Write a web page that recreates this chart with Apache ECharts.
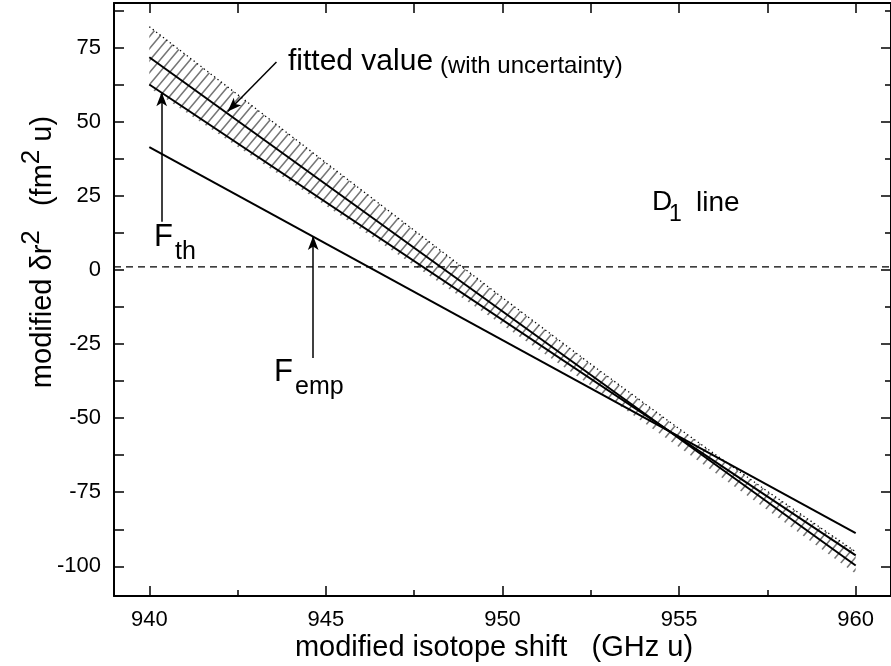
<!DOCTYPE html>
<html><head><meta charset="utf-8">
<script src="https://cdn.jsdelivr.net/npm/echarts@6/dist/echarts.min.js"></script>
<style>html,body{margin:0;padding:0;background:#fff}#c{width:891px;height:666px}</style>
</head><body><div id="c"></div>
<script>
// ---- data ----
const lineX = [940, 960];
const fittedY = [71.7, -99.7];
const fthY = [62.5, -96.3];
const fempY = [41.4, -88.8];
const bandX = [940, 942.5, 945, 947.5, 950, 952.5, 955, 957.5, 960];
const bandUpper = [82.0, 59.1, 36.1, 13.3, -9.4, -31.8, -53.6, -74.7, -95.1];
const bandLower = [61.4, 41.5, 21.6, 1.5, -18.6, -39.0, -59.8, -81.0, -102.5];
const zeroLineX = [939, 961];
const zeroLineY = [1, 1];
const xMajorTicks = [940, 945, 950, 955, 960];
const xMinorTicks = [942.5, 947.5, 952.5, 957.5];
const yMajorTicks = [-100, -75, -50, -25, 0, 25, 50, 75];
const yMinorTicks = [-87.5, -62.5, -37.5, -12.5, 12.5, 37.5, 62.5, 87.5];
const arrowFitted = [[943.6, 70.1], [942.22, 53.4]];
const arrowFth = [[940.35, 16.2], [940.35, 59.9]];
const arrowFemp = [[944.64, -29.7], [944.64, 11.4]];

const FONT = '"Liberation Sans", Arial, Helvetica, sans-serif';
const allX = xMajorTicks.concat(xMinorTicks);
const allY = yMajorTicks.concat(yMinorTicks);

function hatchCanvas() {
  const w = 10, h = 12;
  const c = document.createElement('canvas');
  c.width = w; c.height = h;
  const g = c.getContext('2d');
  g.strokeStyle = '#767676';
  g.lineWidth = 1.5;
  g.beginPath();
  for (const off of [-w, 0, w]) {
    g.moveTo(off - 1, h + h / w);
    g.lineTo(off + w + 1, -h / w);
  }
  g.stroke();
  return c;
}
const hatch = hatchCanvas();

const chart = echarts.init(document.getElementById('c'), null, {renderer: 'canvas'});

function axLine() { return {show: true, onZero: false, lineStyle: {color: '#000', width: 2}}; }
function xAx(extra) {
  return Object.assign({
    type: 'value', min: 939, max: 961, splitLine: {show: false},
    axisLine: axLine()
  }, extra);
}
function yAx(extra) {
  return Object.assign({
    type: 'value', min: -110, max: 90, splitLine: {show: false},
    axisLine: axLine()
  }, extra);
}

const option = {
  animation: false,
  backgroundColor: '#fff',
  grid: {left: 114, right: -3, top: 3, bottom: 70, containLabel: false},
  xAxis: [
    xAx({position: 'bottom',
      axisTick: {show: true, inside: true, length: 10, customValues: xMajorTicks, lineStyle: {color: '#000', width: 1.5}},
      axisLabel: {show: true, customValues: xMajorTicks, color: '#000', fontSize: 22, fontFamily: FONT, margin: 13}
    }),
    xAx({position: 'bottom', axisLine: {show: false, onZero: false},
      axisTick: {show: true, inside: true, length: 6, customValues: xMinorTicks, lineStyle: {color: '#000', width: 1.5}},
      axisLabel: {show: false}
    }),
    xAx({position: 'top',
      axisTick: {show: true, inside: true, length: 10, customValues: allX, lineStyle: {color: '#000', width: 1.5}},
      axisLabel: {show: false}
    })
  ],
  yAxis: [
    yAx({position: 'left',
      axisTick: {show: true, inside: true, length: 10, customValues: allY, lineStyle: {color: '#000', width: 1.5}},
      axisLabel: {show: true, customValues: yMajorTicks, color: '#000', fontSize: 22, fontFamily: FONT, margin: 13}
    }),
    yAx({position: 'right',
      axisTick: {show: true, inside: true, length: 10, customValues: yMajorTicks, lineStyle: {color: '#000', width: 1.5}},
      axisLabel: {show: false}
    }),
    yAx({position: 'right', axisLine: {show: false, onZero: false},
      axisTick: {show: true, inside: true, length: 6, customValues: yMinorTicks, lineStyle: {color: '#000', width: 1.5}},
      axisLabel: {show: false}
    })
  ],
  series: [
    {
      type: 'custom', name: 'band', z: 1, silent: true,
      data: bandX.map((x, i) => [x, bandUpper[i], bandLower[i]]),
      encode: {x: 0, y: [1, 2]},
      renderItem: function (params, api) {
        if (params.dataIndex !== 0) return null;
        const pts = [];
        for (let i = 0; i < bandX.length; i++) pts.push(api.coord([bandX[i], bandUpper[i]]));
        for (let i = bandX.length - 1; i >= 0; i--) pts.push(api.coord([bandX[i], bandLower[i]]));
        return {type: 'polygon', shape: {points: pts}, style: {fill: {image: hatch, repeat: 'repeat'}, stroke: null}};
      }
    },
    {
      type: 'line', name: 'upper', z: 3, symbol: 'none', silent: true,
      data: bandX.map((x, i) => [x, bandUpper[i]]),
      lineStyle: {color: '#000', width: 1.3, type: [1.3, 3]}
    },
    {
      type: 'line', name: 'F_th', z: 4, symbol: 'none', silent: true,
      data: lineX.map((x, i) => [x, fthY[i]]),
      lineStyle: {color: '#000', width: 2}
    },
    {
      type: 'line', name: 'fitted', z: 4, symbol: 'none', silent: true,
      data: lineX.map((x, i) => [x, fittedY[i]]),
      lineStyle: {color: '#000', width: 2}
    },
    {
      type: 'line', name: 'F_emp', z: 4, symbol: 'none', silent: true,
      data: lineX.map((x, i) => [x, fempY[i]]),
      lineStyle: {color: '#000', width: 2}
    },
    {
      type: 'line', name: 'zero', z: 4, symbol: 'none', silent: true,
      data: zeroLineX.map((x, i) => [x, zeroLineY[i]]),
      lineStyle: {color: '#000', width: 1.3, type: [7, 5]},
      markLine: {
        silent: true, animation: false,
        symbol: ['none', 'arrow'], symbolSize: [8, 14],
        label: {show: false},
        lineStyle: {color: '#000', width: 1.5, type: 'solid'},
        emphasis: {disabled: true},
        data: [arrowFitted, arrowFth, arrowFemp].map(a => [{coord: a[0]}, {coord: a[1]}])
      }
    }
  ],
  graphic: [
    {type: 'text', x: 38, y: 252, rotation: Math.PI / 2, silent: true,
      style: {
        text: '{a|modified δr}{s|2}{a|   (fm}{s|2}{a| u)}',
        align: 'center', verticalAlign: 'middle',
        rich: {
          a: {fontSize: 29, fontFamily: FONT, fill: '#000', verticalAlign: 'bottom'},
          s: {fontSize: 26, fontFamily: FONT, fill: '#000', verticalAlign: 'bottom', padding: [0, 0, 13, 0]}
        }
      }},
    {type: 'text', x: 494, y: 648, silent: true,
      style: {text: 'modified isotope shift   (GHz u)', fontSize: 29, fontFamily: FONT, fill: '#000', align: 'center', verticalAlign: 'middle'}},
    {type: 'text', x: 288, y: 62, silent: true,
      style: {text: 'fitted value', fontSize: 30, fontFamily: FONT, fill: '#000', verticalAlign: 'middle'}},
    {type: 'text', x: 440, y: 66, silent: true,
      style: {text: '(with uncertainty)', fontSize: 24, fontFamily: FONT, fill: '#000', verticalAlign: 'middle'}},
    {type: 'text', x: 154, y: 237, silent: true,
      style: {text: 'F', fontSize: 31, fontFamily: FONT, fill: '#000', verticalAlign: 'middle'}},
    {type: 'text', x: 175, y: 252, silent: true,
      style: {text: 'th', fontSize: 25, fontFamily: FONT, fill: '#000', verticalAlign: 'middle'}},
    {type: 'text', x: 274, y: 372, silent: true,
      style: {text: 'F', fontSize: 31, fontFamily: FONT, fill: '#000', verticalAlign: 'middle'}},
    {type: 'text', x: 295, y: 387, silent: true,
      style: {text: 'emp', fontSize: 25, fontFamily: FONT, fill: '#000', verticalAlign: 'middle'}},
    {type: 'text', x: 652, y: 202, silent: true,
      style: {text: 'D', fontSize: 28, fontFamily: FONT, fill: '#000', verticalAlign: 'middle'}},
    {type: 'text', x: 669, y: 215, silent: true,
      style: {text: '1', fontSize: 23, fontFamily: FONT, fill: '#000', verticalAlign: 'middle'}},
    {type: 'text', x: 696, y: 203, silent: true,
      style: {text: 'line', fontSize: 28, fontFamily: FONT, fill: '#000', verticalAlign: 'middle'}}
  ]
};
chart.setOption(option);
</script>
</body></html>
